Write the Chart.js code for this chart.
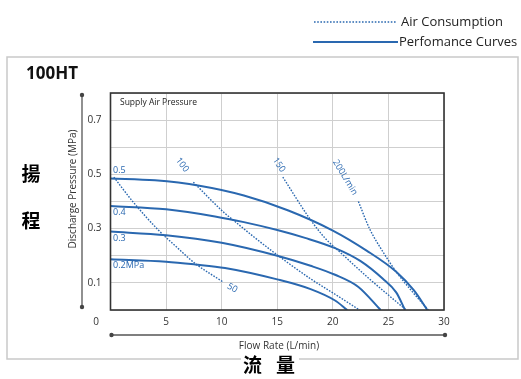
<!DOCTYPE html>
<html><head><meta charset="utf-8">
<script src="https://cdn.jsdelivr.net/npm/chart.js@4"></script>
<style>html,body{margin:0;padding:0;background:#fff;overflow:hidden}canvas{display:block}</style>
</head><body><canvas id="c" width="521" height="379"></canvas>
<script>
// ---- data ----
const flowTicks = [0, 5, 10, 15, 20, 25, 30];
const pressTickLabels = [0.1, 0.3, 0.5, 0.7];

// performance curves (supply air pressure, MPa)
const perf05Flow = [0, 4, 8, 12, 16, 20, 23, 25.7, 27.3, 28.5];
const perf05Pres = [0.485, 0.478, 0.458, 0.422, 0.367, 0.293, 0.22, 0.141, 0.072, 0];
const perf04Flow = [0, 5, 9.4, 12, 15, 17.5, 20.2, 22.5, 24.5, 25.7, 26.5];
const perf04Pres = [0.383, 0.371, 0.345, 0.324, 0.295, 0.266, 0.228, 0.18, 0.115, 0.065, 0];
const perf03Flow = [0, 5, 10, 15, 18, 20.2, 22.3, 24.3];
const perf03Pres = [0.289, 0.276, 0.248, 0.2, 0.163, 0.13, 0.085, 0];
const perf02Flow = [0, 5, 7.6, 10.3, 15, 18, 20.2, 21.3];
const perf02Pres = [0.187, 0.178, 0.168, 0.155, 0.113, 0.077, 0.035, 0];

// air consumption lines (L/min)
const air50Flow = [0.3, 2, 4.3, 6, 7.6, 10.1];
const air50Pres = [0.49, 0.4, 0.295, 0.23, 0.172, 0.104];
const air100Flow = [7.45, 10.3, 11.2, 13, 15.1, 18, 20.2, 22.4];
const air100Pres = [0.471, 0.356, 0.326, 0.266, 0.2, 0.115, 0.058, 0];
const air150Flow = [15.5, 17.95, 19.3, 21, 23, 25, 26.6];
const air150Pres = [0.49, 0.335, 0.265, 0.2, 0.125, 0.055, 0];
const air200Flow = [22.3, 23.3, 24.5, 25.7, 27.2, 28.6];
const air200Pres = [0.40, 0.30, 0.215, 0.141, 0.065, 0];

// curve labels
const perfLabels = ['0.5', '0.4', '0.3', '0.2MPa'];
const perfLabelPres = [0.516, 0.361, 0.264, 0.166];
const airLabels = ['50', '100', '150', '200L/min'];
const airLabelFlow = [10.95, 6.45, 15.15, 21.1];
const airLabelPres = [0.081, 0.535, 0.535, 0.489];
const airLabelAngle = [30, 53, 55, 59];

// ---- chart ----
const BLUE = '#2a68b0';
const FONT = '"Open Sans", "Noto Sans", sans-serif';
const pts = (xs, ys) => xs.map((x, i) => ({x, y: ys[i]}));
const solid = (xs, ys) => ({data: pts(xs, ys), showLine: true, borderColor: BLUE, borderWidth: 2,
  pointRadius: 0, tension: 0.4, cubicInterpolationMode: 'monotone', fill: false});
const dotted = (xs, ys) => ({data: pts(xs, ys), showLine: true, borderColor: BLUE, borderWidth: 1.4,
  borderDash: [1.6, 1.4], pointRadius: 0, tension: 0.4, cubicInterpolationMode: 'monotone', fill: false});

const deco = {
  id: 'deco',
  beforeDraw(chart) {
    const c = chart.ctx;
    c.save();
    c.fillStyle = '#fff'; c.fillRect(0, 0, chart.width, chart.height);
    c.strokeStyle = '#c9c9c9'; c.lineWidth = 1.5;
    c.strokeRect(7, 57, 511, 302);
    c.restore();
  },
  afterDraw(chart) {
    const c = chart.ctx, a = chart.chartArea, xs = chart.scales.x, ys = chart.scales.y;
    c.save();
    c.strokeStyle = '#333'; c.lineWidth = 1.6;
    c.strokeRect(a.left, a.top, a.right - a.left, a.bottom - a.top);
    c.strokeStyle = '#555'; c.fillStyle = '#444'; c.lineWidth = 1.3;
    c.beginPath(); c.moveTo(82, 95); c.lineTo(82, 307); c.stroke();
    c.beginPath(); c.moveTo(a.left + 1, 335); c.lineTo(a.right + 1, 335); c.stroke();
    [[82, 95], [82, 307], [a.left + 1, 335], [a.right + 1, 335]].forEach(([x, y]) => {
      c.beginPath(); c.arc(x, y, 2.2, 0, Math.PI * 2); c.fill();
    });
    c.fillStyle = '#333'; c.font = '10px ' + FONT; c.textAlign = 'center'; c.textBaseline = 'middle';
    c.fillText('0', 96, 322);
    c.font = '10px ' + FONT;
    c.fillText('Flow Rate (L/min)', 279, 346);
    c.save(); c.translate(73, 189); c.rotate(-Math.PI / 2);
    c.fillText('Discharge Pressure (MPa)', 0, 0); c.restore();
    c.font = '8.5px ' + FONT; c.textAlign = 'left'; c.fillStyle = '#222';
    c.fillText('Supply Air Pressure', 120, 103);
    c.font = 'bold 17px ' + FONT; c.fillStyle = '#111';
    c.fillText('100HT', 26, 74);
    c.fillStyle = BLUE; c.font = '9px ' + FONT;
    perfLabels.forEach((t, i) => c.fillText(t, 113, ys.getPixelForValue(perfLabelPres[i])));
    c.textAlign = 'center';
    airLabels.forEach((t, i) => {
      c.save();
      c.translate(xs.getPixelForValue(airLabelFlow[i]), ys.getPixelForValue(airLabelPres[i]));
      c.rotate(airLabelAngle[i] * Math.PI / 180);
      c.fillText(t, 0, 0); c.restore();
    });
    c.strokeStyle = BLUE;
    c.lineWidth = 1.5; c.setLineDash([1.6, 1.6]);
    c.beginPath(); c.moveTo(314, 22); c.lineTo(397, 22); c.stroke();
    c.setLineDash([]); c.lineWidth = 2;
    c.beginPath(); c.moveTo(313, 42); c.lineTo(398, 42); c.stroke();
    c.fillStyle = '#222'; c.font = '13px ' + FONT; c.textAlign = 'left';
    c.fillText('Air Consumption', 401, 22);
    c.fillText('Perfomance Curves', 399, 42);
    c.font = 'bold 19px "Noto Sans CJK TC", "Noto Sans CJK SC", serif';
    c.fillStyle = '#000'; c.textAlign = 'center';
    c.fillText('揚', 31, 174);
    c.fillText('程', 31, 221);
    c.fillStyle = '#fff'; c.fillRect(241, 352, 58, 20);
    c.fillStyle = '#000'; c.textAlign = 'left';
    c.fillText('流', 243, 365);
    c.fillText('量', 276, 365);
    c.restore();
  }
};

new Chart(document.getElementById('c'), {
  type: 'scatter',
  data: {
    datasets: [
      solid(perf05Flow, perf05Pres), solid(perf04Flow, perf04Pres),
      solid(perf03Flow, perf03Pres), solid(perf02Flow, perf02Pres),
      dotted(air50Flow, air50Pres), dotted(air100Flow, air100Pres),
      dotted(air150Flow, air150Pres), dotted(air200Flow, air200Pres)
    ]
  },
  options: {
    responsive: false, animation: false, devicePixelRatio: 1,
    layout: {padding: {left: 0, top: 93, right: 77, bottom: 0}},
    plugins: {legend: {display: false}, tooltip: {enabled: false}},
    scales: {
      x: {
        type: 'linear', min: flowTicks[0], max: flowTicks[flowTicks.length - 1],
        afterBuildTicks: s => { s.ticks = flowTicks.map(v => ({value: v})); },
        afterFit: s => { s.height = 69; },
        ticks: {color: '#333', font: {size: 10, family: FONT}, padding: 6, maxRotation: 0,
          callback: v => v === 0 ? '' : String(v)},
        grid: {color: '#cfcfcf', lineWidth: 1, drawTicks: false},
        border: {display: false}
      },
      y: {
        type: 'linear', min: 0, max: 0.8,
        ticks: {stepSize: 0.1, color: '#333', font: {size: 10, family: FONT}, padding: 9,
          callback: v => {
            const k = Math.round(v * 10);
            return pressTickLabels.some(p => Math.round(p * 10) === k) ? (k / 10).toFixed(1) : '';
          }},
        afterFit: s => { s.width = 110.5; },
        grid: {color: '#cfcfcf', lineWidth: 1, drawTicks: false},
        border: {display: false}
      }
    }
  },
  plugins: [deco]
});
</script></body></html>
